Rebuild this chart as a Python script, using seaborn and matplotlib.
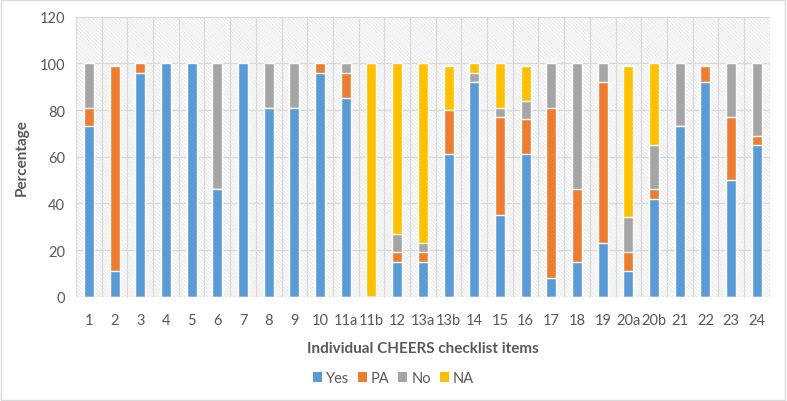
import matplotlib
matplotlib.use("Agg")
import matplotlib.pyplot as plt
import seaborn as sns
import numpy as np
import pandas as pd
from matplotlib.patches import Rectangle, Patch

items = ["1", "2", "3", "4", "5", "6", "7", "8", "9", "10", "11a", "11b", "12", "13a",
         "13b", "14", "15", "16", "17", "18", "19", "20a", "20b", "21", "22", "23", "24"]
yes = [73, 11, 96, 100, 100, 46, 100, 81, 81, 96, 85, 0, 15, 15, 61, 92, 35, 61, 8, 15, 23, 11, 42, 73, 92, 50, 65]
pa  = [8, 88, 4, 0, 0, 0, 0, 0, 0, 4, 11, 0, 4, 4, 19, 0, 42, 15, 73, 31, 69, 8, 4, 0, 7, 27, 4]
no  = [19, 0, 0, 0, 0, 54, 0, 19, 19, 0, 4, 0, 8, 4, 0, 4, 4, 8, 19, 54, 8, 15, 19, 27, 0, 23, 31]
na  = [0, 0, 0, 0, 0, 0, 0, 0, 0, 0, 0, 100, 73, 77, 19, 4, 19, 15, 0, 0, 0, 65, 35, 0, 0, 0, 0]
series_names = ["Yes", "PA", "No", "NA"]
colors = ["#5B9BD5", "#ED7D31", "#A5A5A5", "#FFC000"]

sns.set_theme(style="white")
plt.rcParams['font.family'] = ['Lato', 'DejaVu Sans']
plt.rcParams['hatch.linewidth'] = 0.5
plt.rcParams['hatch.color'] = '#DEDEDE'

fig = plt.figure(figsize=(7.87, 4.02), dpi=100)
ax = fig.add_axes([0.0966, 0.2595, 0.978 - 0.0966, 0.956 - 0.2595])

# hatched background
bg = Rectangle((0, 0), 1, 1, transform=ax.transAxes, facecolor="white",
               edgecolor="#DEDEDE", hatch="\\" * 9, linewidth=0, zorder=0)
ax.add_patch(bg)

series = [yes, pa, no, na]
cum = np.cumsum(np.array(series, dtype=float), axis=0)
df = pd.DataFrame({"item": items})
for k in range(3, -1, -1):
    df["v"] = cum[k]
    sns.barplot(data=df, x="item", y="v", color=colors[k], width=0.39,
                saturation=1, ax=ax, zorder=3, order=items)

n = len(items)
ax.set_xlim(-0.5, n - 0.5)
ax.set_ylim(0, 120)
ax.set_yticks(range(0, 121, 20))
for y in range(20, 121, 20):
    ax.axhline(y, color="#D9D9D9", lw=0.9, zorder=1)
for i in range(n + 1):
    ax.axvline(i - 0.5, color="#D9D9D9", lw=0.9, zorder=1)
for s in ax.spines.values():
    s.set_visible(False)
ax.axhline(0, color="#D9D9D9", lw=1.0, zorder=4)

ax.tick_params(axis="both", length=0, labelsize=10.5, colors="#595959", pad=8)
ax.tick_params(axis="x", pad=12)
ax.set_xlabel("Individual CHEERS checklist items", fontsize=11, fontweight="bold",
              color="#595959", labelpad=10)
ax.set_ylabel("Percentage", fontsize=11, fontweight="bold", color="#595959", labelpad=8)

handles = [Patch(facecolor=c, edgecolor="none", label=l) for c, l in zip(colors, series_names)]
fig.legend(handles=handles, loc="center", bbox_to_anchor=(0.5, 0.057), ncol=4,
           frameon=False, fontsize=10.5, handlelength=0.6, handleheight=0.6,
           handletextpad=0.3, columnspacing=0.6, labelcolor="#595959")

fig.add_artist(Rectangle((0.001, 0.002), 0.997, 0.996, transform=fig.transFigure,
                         facecolor="none", edgecolor="#D9D9D9", lw=1))

fig.savefig("out.png", dpi=100)
